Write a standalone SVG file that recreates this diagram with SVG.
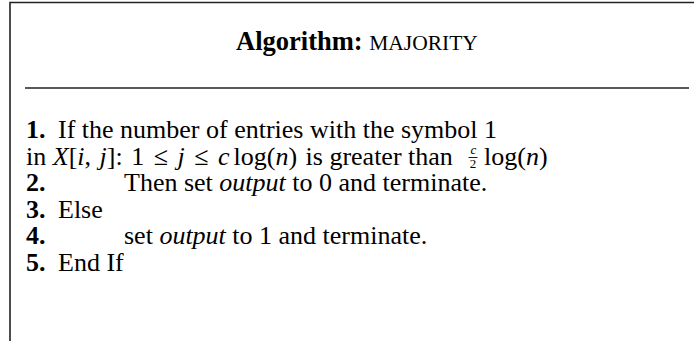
<svg xmlns="http://www.w3.org/2000/svg" width="694" height="341" viewBox="0 0 694 341">
<style>
.t{font-family:"Liberation Serif","Times New Roman",serif;font-size:26px;fill:#000}
.b{font-weight:bold}
.i{font-style:italic}
.s{font-size:13px}
.rule{stroke:#222;stroke-width:1.6;fill:none}
</style>
<rect width="694" height="341" fill="#fff"/>
<g id="frame">
<path class="rule" d="M10,341 V2.5 H694"/>
<line class="rule" x1="25" y1="88" x2="689" y2="88"/>
</g>
<g id="title">
<text class="t" x="357" y="50" text-anchor="middle"><tspan class="b" font-size="26.5">Algorithm:</tspan> <tspan font-size="21.5">MAJORITY</tspan></text>
</g>
<g id="body">
<text class="t" y="138"><tspan class="b" x="26">1.</tspan><tspan x="58">If the number of entries with the symbol 1</tspan></text>
<text class="t" y="164.5" x="26">in <tspan class="i">X</tspan>[<tspan class="i">i</tspan>, <tspan class="i" dx="2">j</tspan>]:<tspan dx="2"> 1 </tspan><tspan dx="3">≤</tspan><tspan dx="3"> </tspan><tspan class="i">j</tspan><tspan dx="3"> ≤</tspan><tspan dx="3"> </tspan><tspan class="i">c</tspan><tspan dx="4">log(</tspan><tspan class="i">n</tspan>)<tspan dx="2"> is greater than</tspan><tspan class="i s" x="470.5" y="154">c</tspan><tspan class="s" x="469.7" y="168">2</tspan><tspan x="484" y="164.5">log(</tspan><tspan class="i">n</tspan>)</text>
<line x1="468.5" y1="157.5" x2="477.5" y2="157.5" stroke="#000" stroke-width="0.9"/>
<text class="t" y="191"><tspan class="b" x="26">2.</tspan><tspan x="124">Then set <tspan class="i">output</tspan> to 0 and terminate.</tspan></text>
<text class="t" y="217.5"><tspan class="b" x="26">3.</tspan><tspan x="58">Else</tspan></text>
<text class="t" y="244"><tspan class="b" x="26">4.</tspan><tspan x="124">set <tspan class="i">output</tspan> to 1 and terminate.</tspan></text>
<text class="t" y="270.5"><tspan class="b" x="26">5.</tspan><tspan x="58">End If</tspan></text>
</g>
</svg>
